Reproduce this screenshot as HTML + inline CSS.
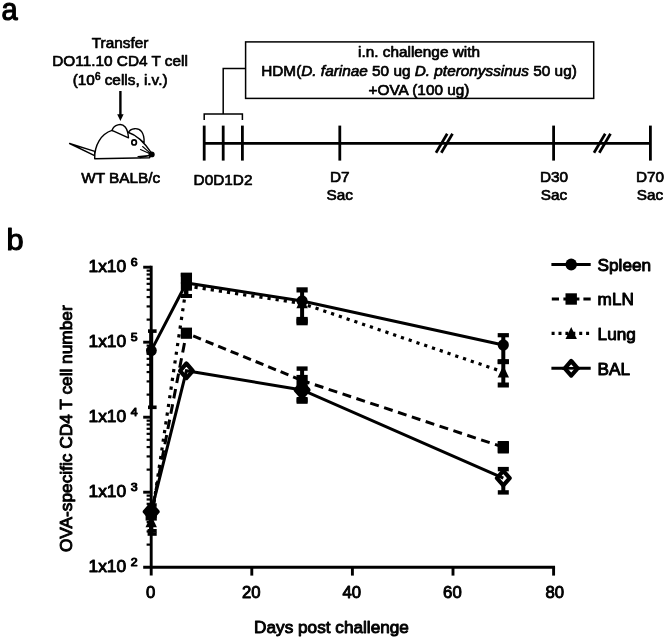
<!DOCTYPE html>
<html lang="en"><head><meta charset="utf-8"><title>Figure</title>
<style>
html,body{margin:0;padding:0;background:#fff;}
body{width:666px;height:640px;overflow:hidden;}
svg{display:block;}
text{font-family:"Liberation Sans",Arial,Helvetica,sans-serif;fill:#000;stroke:#000;stroke-width:0.95px;stroke-linejoin:round;}
.a{font-size:15.35px;stroke-width:0.7px;}
.b{font-size:17.2px;}
.pl{font-size:29px;stroke-width:1.1px;}
.sup{font-size:11.2px;stroke-width:1.0px;}
.i{font-style:italic;}
</style></head><body>
<svg width="666" height="640" viewBox="0 0 666 640">
<rect x="0" y="0" width="666" height="640" fill="#fff"/>

<text class="pl" transform="translate(1.4 19.7) scale(1 1.09)">a</text>
<text class="a" text-anchor="middle" x="120.1" y="48.3">Transfer</text>
<text class="a" text-anchor="middle" x="120.1" y="66.4">DO11.10 CD4 T cell</text>
<text class="a" text-anchor="middle" x="120.1" y="84.6">(10<tspan dy="-5" style="font-size:10px">6</tspan><tspan dy="5"> cells, i.v.)</tspan></text>
<line x1="120.4" y1="91" x2="120.4" y2="116" stroke="#000" stroke-width="2.4"/>
<path d="M117.2 114.2 L123.6 114.2 L120.4 121 Z" fill="#000"/>
<g fill="#fff" stroke="#000" stroke-width="1.4" stroke-linejoin="round" stroke-linecap="round">
<path d="M69.6 143.5 L94.8 151.3 L94.6 155.6 Z"/>
<path d="M128.5 132.6 C130.5 127.9 138.3 127.2 141.6 131.6 C143.8 134.6 144.3 138.5 144.1 142.5 Z"/>
<path d="M94.7 158.8 C94.3 145 101 134 112 130.4 L128.5 132.5 C135 134.5 144 142 151.2 152.7 L149.6 157.8 Z"/>
<path d="M112 130.4 C114 124.6 121.5 122.6 125.2 127 C127.6 130 128.2 134 128.5 137.8 Z"/>
<ellipse cx="134.1" cy="142.4" rx="2.3" ry="2.6" stroke-width="1.7"/>
<path d="M140.5 149.5 L150.5 154 M142.6 146.5 L150.8 153.6 M138 156.6 L150.5 155.4 L140 157.6" fill="none" stroke-width="1.1"/>
</g>
<ellipse cx="151.6" cy="154.4" rx="3.1" ry="2.9" fill="#000"/>
<text class="a" text-anchor="middle" x="120.8" y="183">WT BALB/c</text>
<rect x="245.6" y="41.9" width="348.1" height="56.5" fill="#fff" stroke="#000" stroke-width="1.5"/>
<text class="a" text-anchor="middle" x="419" y="56.9">i.n. challenge with</text>
<text class="a" text-anchor="middle" x="419" y="75.8">HDM(<tspan class="i">D. farinae</tspan> 50 ug <tspan class="i">D. pteronyssinus</tspan> 50 ug)</text>
<text class="a" text-anchor="middle" x="419" y="95">+OVA (100 ug)</text>
<path d="M245.6 68.4 L223.2 68.4 L223.2 114 M204.2 120 L204.2 114 L242.4 114 L242.4 120" fill="none" stroke="#000" stroke-width="1.5"/>
<g stroke="#000" stroke-width="2.8" fill="none">
<path d="M204.2 143.3 L650.4 143.3"/>
<path d="M204.2 125.6 L204.2 160.6"/>
<path d="M223.2 125.6 L223.2 160.6"/>
<path d="M242.4 125.6 L242.4 160.6"/>
<path d="M339.8 125.6 L339.8 160.6"/>
<path d="M553.6 125.6 L553.6 160.6"/>
<path d="M650.4 125.6 L650.4 160.6"/>
<path d="M436.0 152.8 L447.2 133.7" stroke-width="2.7"/>
<path d="M441.3 152.8 L452.5 133.7" stroke-width="2.7"/>
<path d="M594.0 152.8 L605.2 133.7" stroke-width="2.7"/>
<path d="M599.3 152.8 L610.5 133.7" stroke-width="2.7"/>
</g>
<text class="a" text-anchor="middle" x="223" y="184.5">D0D1D2</text>
<text class="a" text-anchor="middle" x="339.7" y="181.7">D7</text>
<text class="a" text-anchor="middle" x="339.7" y="199.9">Sac</text>
<text class="a" text-anchor="middle" x="554.0" y="181.7">D30</text>
<text class="a" text-anchor="middle" x="554.0" y="199.9">Sac</text>
<text class="a" text-anchor="middle" x="650.0" y="181.7">D70</text>
<text class="a" text-anchor="middle" x="650.0" y="199.9">Sac</text>
<text class="pl" transform="translate(6.6 250.1) scale(1.06 1.01)">b</text>
<g stroke="#000" stroke-width="2.9" fill="none">
<path d="M151.20 265.75 L151.20 575.6"/>
<path d="M143.2 567.20 L555.05 567.20"/>
<path d="M251.80 567.20 L251.80 575.6"/>
<path d="M352.40 567.20 L352.40 575.6"/>
<path d="M453.00 567.20 L453.00 575.6"/>
<path d="M553.60 567.20 L553.60 575.6"/>
<path d="M143.2 267.20 L151.20 267.20"/>
<path d="M143.2 342.20 L151.20 342.20"/>
<path d="M143.2 417.20 L151.20 417.20"/>
<path d="M143.2 492.20 L151.20 492.20"/>
</g>
<g stroke="#000" stroke-width="2.2" fill="none">
<path d="M146.6 319.62 L151.20 319.62"/>
<path d="M146.6 306.42 L151.20 306.42"/>
<path d="M146.6 297.05 L151.20 297.05"/>
<path d="M146.6 289.78 L151.20 289.78"/>
<path d="M146.6 283.84 L151.20 283.84"/>
<path d="M146.6 278.82 L151.20 278.82"/>
<path d="M146.6 274.47 L151.20 274.47"/>
<path d="M146.6 270.63 L151.20 270.63"/>
<path d="M146.6 394.62 L151.20 394.62"/>
<path d="M146.6 381.42 L151.20 381.42"/>
<path d="M146.6 372.05 L151.20 372.05"/>
<path d="M146.6 364.78 L151.20 364.78"/>
<path d="M146.6 358.84 L151.20 358.84"/>
<path d="M146.6 353.82 L151.20 353.82"/>
<path d="M146.6 349.47 L151.20 349.47"/>
<path d="M146.6 345.63 L151.20 345.63"/>
<path d="M146.6 469.62 L151.20 469.62"/>
<path d="M146.6 456.42 L151.20 456.42"/>
<path d="M146.6 447.05 L151.20 447.05"/>
<path d="M146.6 439.78 L151.20 439.78"/>
<path d="M146.6 433.84 L151.20 433.84"/>
<path d="M146.6 428.82 L151.20 428.82"/>
<path d="M146.6 424.47 L151.20 424.47"/>
<path d="M146.6 420.63 L151.20 420.63"/>
<path d="M146.6 544.62 L151.20 544.62"/>
<path d="M146.6 531.42 L151.20 531.42"/>
<path d="M146.6 522.05 L151.20 522.05"/>
<path d="M146.6 514.78 L151.20 514.78"/>
<path d="M146.6 508.84 L151.20 508.84"/>
<path d="M146.6 503.82 L151.20 503.82"/>
<path d="M146.6 499.47 L151.20 499.47"/>
<path d="M146.6 495.63 L151.20 495.63"/>
</g>
<text class="b" x="88.5" y="271.7" style="font-size:17.4px">1x10</text>
<text class="sup" transform="translate(130.7 266.4) scale(1.1 1)">6</text>
<text class="b" x="88.5" y="346.7" style="font-size:17.4px">1x10</text>
<text class="sup" transform="translate(130.7 341.4) scale(1.1 1)">5</text>
<text class="b" x="88.5" y="421.7" style="font-size:17.4px">1x10</text>
<text class="sup" transform="translate(130.7 416.4) scale(1.1 1)">4</text>
<text class="b" x="88.5" y="496.7" style="font-size:17.4px">1x10</text>
<text class="sup" transform="translate(130.7 491.4) scale(1.1 1)">3</text>
<text class="b" x="88.5" y="571.7" style="font-size:17.4px">1x10</text>
<text class="sup" transform="translate(130.7 566.4) scale(1.1 1)">2</text>
<text class="b" style="font-size:16.7px" text-anchor="middle" x="150.6" y="597.8">0</text>
<text class="b" style="font-size:16.7px" text-anchor="middle" x="251.2" y="597.8">20</text>
<text class="b" style="font-size:16.7px" text-anchor="middle" x="351.8" y="597.8">40</text>
<text class="b" style="font-size:16.7px" text-anchor="middle" x="452.4" y="597.8">60</text>
<text class="b" style="font-size:16.7px" text-anchor="middle" x="554.8" y="597.8">80</text>
<text class="b" text-anchor="middle" x="331.5" y="632.8">Days post challenge</text>
<text class="b" style="font-size:17.3px" text-anchor="middle" transform="translate(72 428.7) rotate(-90)">OVA-specific CD4 T cell number</text>
<g stroke="#000" fill="none" stroke-width="3.0">
<path d="M186.4 286.0 L151.2 521.0" stroke-dasharray="3.2 5.6" stroke-dashoffset="4" stroke-width="3.2"/>
<polyline points="186.4,286.0 302.1,303.5 503.3,372.0" stroke-dasharray="3.2 5" stroke-width="3.2"/>
<path d="M186.4 333.2 L151.2 515.0" stroke-dasharray="9.6 6" stroke-dashoffset="-10"/>
<path d="M186.4 333.2 L302.1 380.5" stroke-dasharray="8.4 5.1" stroke-dashoffset="-7.3"/>
<path d="M302.1 380.5 L503.3 447.2" stroke-dasharray="9 5.6" stroke-dashoffset="1.2"/>
<polyline points="151.2,350.6 186.4,283.0 302.1,301.0 503.3,345.0"/>
</g>
<rect x="149.20" y="331.10" width="4.00" height="76.20" fill="#000"/><rect x="148.00" y="329.30" width="8.60" height="3.60" fill="#000"/><rect x="148.00" y="405.50" width="8.60" height="3.60" fill="#000"/>
<ellipse cx="151.40" cy="350.60" rx="5.40" ry="5.60" fill="#000"/>
<rect x="149.20" y="516.00" width="4.00" height="18.00" fill="#000"/><rect x="147.60" y="514.20" width="9.10" height="3.60" fill="#000"/><rect x="147.60" y="532.20" width="9.10" height="3.60" fill="#000"/>
<rect x="149.20" y="505.00" width="4.00" height="25.80" fill="#000"/><rect x="147.60" y="503.20" width="9.10" height="3.60" fill="#000"/><rect x="147.60" y="529.00" width="9.10" height="3.60" fill="#000"/>
<rect x="145.60" y="509.40" width="11.20" height="11.20" fill="#000"/>
<path d="M151.20 515.30 L156.90 527.30 L145.50 527.30 Z" fill="#000"/>
<path d="M151.20 504.40 L157.60 511.70 L151.20 519.00 L144.80 511.70 Z" fill="#000" stroke="#000" stroke-width="4.2" stroke-linejoin="round"/>
<rect x="180.81" y="272.9" width="11.2" height="17" fill="#000"/>
<rect x="184.41" y="274.70" width="4.00" height="21.30" fill="#000"/><rect x="180.81" y="272.70" width="11.20" height="4.00" fill="#000"/><rect x="180.81" y="294.00" width="11.20" height="4.00" fill="#000"/>
<ellipse cx="186.41" cy="283.00" rx="5.60" ry="5.80" fill="#000"/>
<path d="M186.41 278.80 L192.11 290.80 L180.71 290.80 Z" fill="#000"/>
<rect x="180.81" y="327.60" width="11.20" height="11.20" fill="#000"/>
<path d="M186.41 363.50 L192.81 370.80 L186.41 378.10 L180.01 370.80 Z" fill="#fff" stroke="#000" stroke-width="4.2" stroke-linejoin="round"/>
<rect x="300.10" y="289.90" width="4.00" height="31.20" fill="#000"/><rect x="296.50" y="287.30" width="11.20" height="5.20" fill="#000"/><rect x="296.50" y="318.50" width="11.20" height="5.20" fill="#000"/>
<rect x="296.50" y="316.9" width="11.2" height="8.4" fill="#000"/>
<ellipse cx="302.10" cy="301.00" rx="5.60" ry="5.80" fill="#000"/>
<path d="M302.10 296.30 L307.80 308.30 L296.40 308.30 Z" fill="#000"/>
<rect x="300.10" y="368.60" width="4.00" height="31.80" fill="#000"/><rect x="296.60" y="366.40" width="11.00" height="4.40" fill="#000"/><rect x="296.60" y="398.20" width="11.00" height="4.40" fill="#000"/>
<rect x="296.60" y="397" width="11" height="6.8" fill="#000"/>
<rect x="296.50" y="374.90" width="11.20" height="11.20" fill="#000"/>
<path d="M302.10 382.70 L308.50 390.00 L302.10 397.30 L295.70 390.00 Z" fill="#000" stroke="#000" stroke-width="4.2" stroke-linejoin="round"/>
<rect x="501.30" y="335.20" width="4.00" height="26.50" fill="#000"/><rect x="497.70" y="333.10" width="11.20" height="4.20" fill="#000"/><rect x="497.70" y="359.60" width="11.20" height="4.20" fill="#000"/>
<rect x="501.30" y="361.70" width="4.00" height="23.30" fill="#000"/><rect x="497.70" y="359.20" width="11.20" height="5.00" fill="#000"/><rect x="497.70" y="382.50" width="11.20" height="5.00" fill="#000"/>
<ellipse cx="503.30" cy="345.00" rx="5.60" ry="5.80" fill="#000"/>
<path d="M503.30 365.60 L509.00 377.60 L497.60 377.60 Z" fill="#000"/>
<rect x="497.70" y="441.60" width="11.20" height="11.20" fill="#000"/>
<rect x="497.80" y="441" width="11" height="12.5" fill="#000"/>
<rect x="501.30" y="469.10" width="4.00" height="23.30" fill="#000"/><rect x="497.80" y="466.90" width="11.00" height="4.40" fill="#000"/><rect x="497.80" y="490.20" width="11.00" height="4.40" fill="#000"/>
<path d="M503.30 470.80 L509.70 478.10 L503.30 485.40 L496.90 478.10 Z" fill="#fff" stroke="#000" stroke-width="4.2" stroke-linejoin="round"/>
<polyline points="151.2,511.7 186.4,370.8 302.1,390.0 503.3,478.1" stroke="#000" fill="none" stroke-width="3.0"/>
<g stroke="#000" fill="none" stroke-width="3.0">
<path d="M551.4 264.5 L590.7 264.5"/>
<path d="M551.8 299 L559 299 M563.4 299 L579.4 299 M583.4 299 L590.7 299"/>
<path d="M551.6 333.4 L590.7 333.4" stroke-dasharray="3 3.9" stroke-width="3.2"/>
<path d="M551.4 368.3 L590.7 368.3"/>
</g>
<ellipse cx="571.20" cy="264.50" rx="5.70" ry="5.90" fill="#000"/>
<rect x="565.50" y="293.30" width="11.40" height="11.40" fill="#000"/>
<path d="M571.20 327.00 L576.90 339.00 L565.50 339.00 Z" fill="#000"/>
<path d="M571.20 361.00 L577.60 368.30 L571.20 375.60 L564.80 368.30 Z" fill="#fff" stroke="#000" stroke-width="4.2" stroke-linejoin="round"/>
<path d="M562 368.3 L580 368.3" stroke="#000" stroke-width="2.7"/>
<text class="b" x="597.6" y="270.5">Spleen</text>
<text class="b" x="597.6" y="305.2">mLN</text>
<text class="b" x="597.6" y="340.0">Lung</text>
<text class="b" x="597.6" y="374.6">BAL</text>
</svg></body></html>
